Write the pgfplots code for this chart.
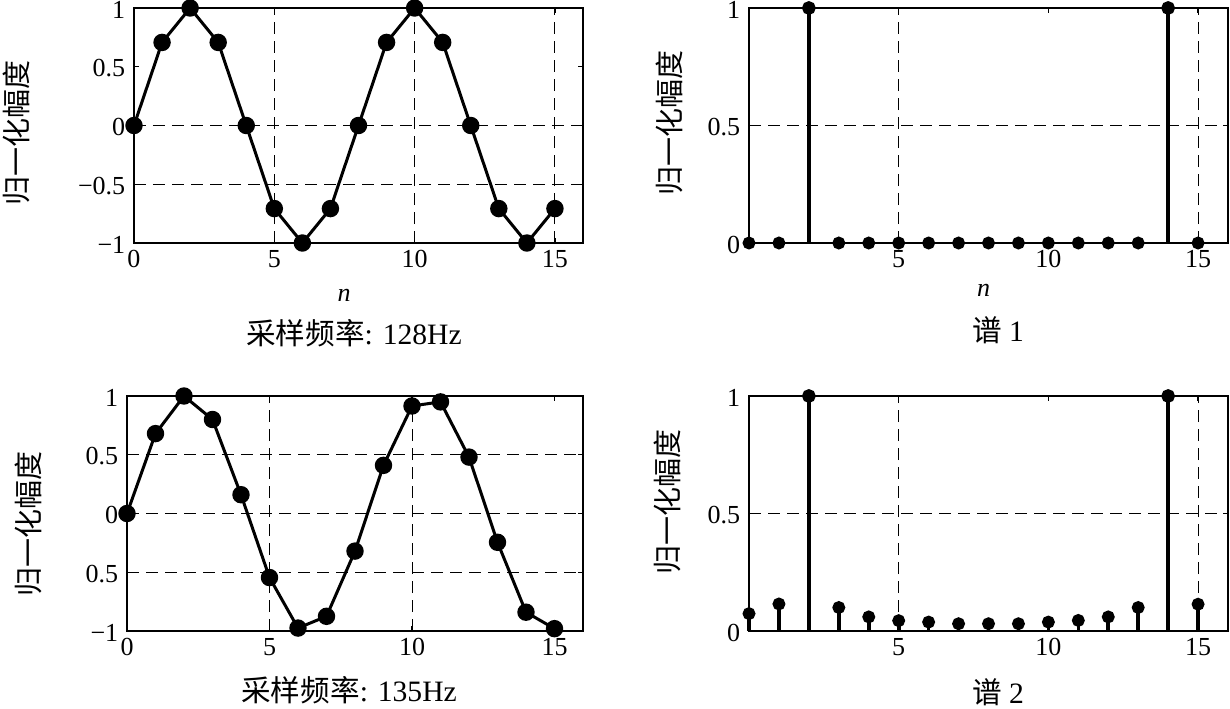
\documentclass[border=0pt]{standalone}
\usepackage{fontspec}
\setmainfont{Liberation Serif}
\newfontfamily\cjk{Noto Sans CJK SC}
\usepackage{pgfplots}
\usepackage{pgfplotstable}
\pgfplotsset{compat=1.18}

\pgfplotstableread{
n y
0 0
1 0.7071
2 1
3 0.7071
4 0
5 -0.7071
6 -1
7 -0.7071
8 0
9 0.7071
10 1
11 0.7071
12 0
13 -0.7071
14 -1
15 -0.7071
}\sigA

\pgfplotstableread{
n y
0 0
1 0.68
2 1.0
3 0.80
4 0.16
5 -0.545
6 -0.975
7 -0.875
8 -0.32
9 0.41
10 0.915
11 0.95
12 0.48
13 -0.245
14 -0.84
15 -0.98
}\sigB

\pgfplotstableread{
n y
0 0
1 0
3 0
4 0
5 0
6 0
7 0
8 0
9 0
10 0
11 0
12 0
13 0
15 0
}\specAsmall

\pgfplotstableread{
n y
2 1
14 1
}\specAbig

\pgfplotstableread{
n y
0 0.074
1 0.115
3 0.10
4 0.06
5 0.044
6 0.038
7 0.031
8 0.031
9 0.031
10 0.038
11 0.045
12 0.06
13 0.10
15 0.114
}\specBsmall

\pgfplotstableread{
n y
2 1
14 1
}\specBbig

\begin{document}
\begin{tikzpicture}
\path[use as bounding box] (0,0) rectangle (615pt,354pt);
\pgfplotsset{
  myax/.style={
    scale only axis, height=117.5pt,
    xmin=0, xmax=16,
    anchor=south west,
    clip=false,
    axis line style={black, line width=1pt},
    tick align=inside, major tick length=2.5pt,
    tick style={black, line width=0.6pt},
    grid style={black, line width=0.5pt, dash pattern=on 6pt off 3.5pt},
    ticklabel style={font=\fontsize{13}{14}\selectfont},
    yticklabel style={anchor=base east, inner ysep=0pt, inner xsep=1pt, xshift=-3.2pt, yshift=-5.1pt},
    extra x tick labels={}, extra y tick labels={},
    extra x tick style={grid=major, major tick length=0pt},
    extra y tick style={grid=major, major tick length=0pt},
    ylabel={\cjk 归一化幅度},
    label style={font=\fontsize{14.5}{15}\selectfont},
  },
  sig/.style={black, line width=1.5pt, mark=*, mark size=3.6pt, mark options={solid, fill=black}},
  stem/.style={ycomb, black, line width=1.8pt, mark=*, mark size=2.3pt, mark options={solid, fill=black}},
}

% top-left
\begin{axis}[myax, at={(67pt,232.5pt)}, width=224.5pt,
  ymin=-1, ymax=1,
  xtick={0,5,10,15}, xticklabels={0,5,10,15},
  ytick={-1,-0.5,0,0.5,1}, yticklabels={−1,−0.5,0,0.5,1},
  extra x ticks={5,10,15}, extra y ticks={-0.5,0},
  ylabel style={at={(axis description cs:-0.261,0.47)}, anchor=center},
]
\addplot[sig] table[x=n,y=y] {\sigA};
\node[font=\fontsize{13}{14}\selectfont\itshape] at (rel axis cs:0.468,-0.221) {n};
\node[font=\fontsize{14.8}{15}\selectfont] at (rel axis cs:0.49,-0.383) {{\cjk 采样频率}: 128Hz};
\end{axis}

% top-right
\begin{axis}[myax, at={(374.5pt,232.5pt)}, width=239.5pt,
  ymin=0, ymax=1,
  xtick={5,10,15}, xticklabels={5,10,15},
  ytick={0,0.5,1}, yticklabels={0,0.5,1},
  extra x ticks={5,15}, extra y ticks={0.5},
  ylabel style={at={(axis description cs:-0.167,0.51)}, anchor=center},
]
\addplot[stem] table[x=n,y=y] {\specAsmall};
\addplot[stem, line width=2.2pt] table[x=n,y=y] {\specAbig};
\node[font=\fontsize{13}{14}\selectfont\itshape] at (rel axis cs:0.49,-0.2) {n};
\node[font=\fontsize{14.8}{15}\selectfont] at (rel axis cs:0.52,-0.37) {{\cjk 谱} 1};
\end{axis}

% bottom-left
\begin{axis}[myax, at={(63.5pt,38.5pt)}, width=228pt,
  ymin=-1, ymax=1,
  xtick={0,5,10,15}, xticklabels={0,5,10,15},
  ytick={-1,-0.5,0,0.5,1}, yticklabels={−1,0.5,0,0.5,1},
  extra x ticks={5,10}, extra y ticks={-0.5,0,0.5},
  ylabel style={at={(axis description cs:-0.215,0.455)}, anchor=center},
]
\addplot[sig] table[x=n,y=y] {\sigB};
\node[font=\fontsize{14.8}{15}\selectfont] at (rel axis cs:0.487,-0.251) {{\cjk 采样频率}: 135Hz};
\end{axis}

% bottom-right
\begin{axis}[myax, at={(374.5pt,38.5pt)}, width=239.5pt,
  ymin=0, ymax=1,
  xtick={5,10,15}, xticklabels={5,10,15},
  ytick={0,0.5,1}, yticklabels={0,0.5,1},
  extra x ticks={5,15}, extra y ticks={0.5},
  ylabel style={at={(axis description cs:-0.171,0.55)}, anchor=center},
]
\addplot[stem] table[x=n,y=y] {\specBsmall};
\addplot[stem, line width=2.2pt] table[x=n,y=y] {\specBbig};
\node[font=\fontsize{14.8}{15}\selectfont] at (rel axis cs:0.52,-0.26) {{\cjk 谱} 2};
\end{axis}
\end{tikzpicture}
\end{document}
